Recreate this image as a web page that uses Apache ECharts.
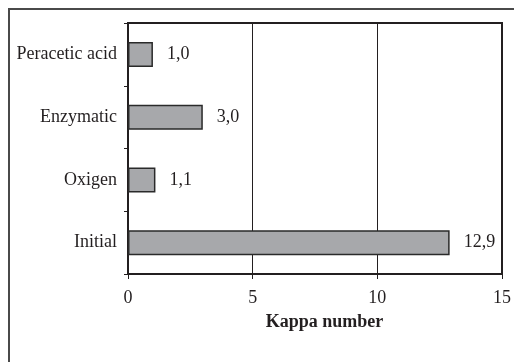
<!DOCTYPE html>
<html>
<head>
<meta charset="utf-8">
<script src="https://cdn.jsdelivr.net/npm/echarts@6/dist/echarts.min.js"></script>
<style>
html,body{margin:0;padding:0;background:#fff;}
#chart{width:514px;height:362px;}
</style>
</head>
<body>
<div id="chart"></div>
<script>
const categories = ['Initial', 'Oxigen', 'Enzymatic', 'Peracetic acid'];
const kappaValues = [12.9, 1.1, 3.0, 1.0];
const xTicks = [0, 5, 10, 15];
const axisTitle = 'Kappa number';

const FONT = '"Liberation Serif", "DejaVu Serif", serif';
const INK = '#231f20';

const chart = echarts.init(document.getElementById('chart'), null, {renderer: 'canvas'});
chart.setOption({
  animation: false,
  backgroundColor: '#ffffff',
  graphic: [{
    type: 'rect',
    shape: {x: 9, y: 9, width: 540, height: 400},
    style: {fill: 'none', stroke: '#4a4a4a', lineWidth: 2},
    z: 0
  }],
  grid: {
    left: 128, right: 11, top: 23, bottom: 88,
    show: true, borderColor: INK, borderWidth: 2, backgroundColor: 'transparent'
  },
  xAxis: {
    type: 'value',
    min: xTicks[0], max: xTicks[xTicks.length - 1], interval: 5,
    name: axisTitle,
    nameLocation: 'middle',
    nameGap: 39,
    nameTextStyle: {fontFamily: FONT, fontSize: 18, fontWeight: 'bold', color: INK, padding: [0, 0, 0, 19]},
    axisLine: {show: true, lineStyle: {color: INK, width: 2}},
    axisTick: {show: true, inside: false, length: 5, lineStyle: {color: INK, width: 1}},
    axisLabel: {fontFamily: FONT, fontSize: 18, color: INK, margin: 15},
    splitLine: {show: true, lineStyle: {color: INK, width: 1}}
  },
  yAxis: {
    type: 'category',
    data: categories,
    axisLine: {show: true, lineStyle: {color: INK, width: 2}},
    axisTick: {show: true, inside: false, length: 4, lineStyle: {color: INK, width: 1}},
    axisLabel: {fontFamily: FONT, fontSize: 18, color: INK, margin: 11},
    splitLine: {show: false}
  },
  series: [{
    type: 'bar',
    data: kappaValues,
    barWidth: 25,
    itemStyle: {color: '#a7a8ab', borderColor: '#2a2a2a', borderWidth: 1.5},
    label: {
      show: true, position: 'right', distance: 14,
      fontFamily: FONT, fontSize: 18, color: INK,
      formatter: p => p.value.toFixed(1).replace('.', ',')
    }
  }]
});
</script>
</body>
</html>
